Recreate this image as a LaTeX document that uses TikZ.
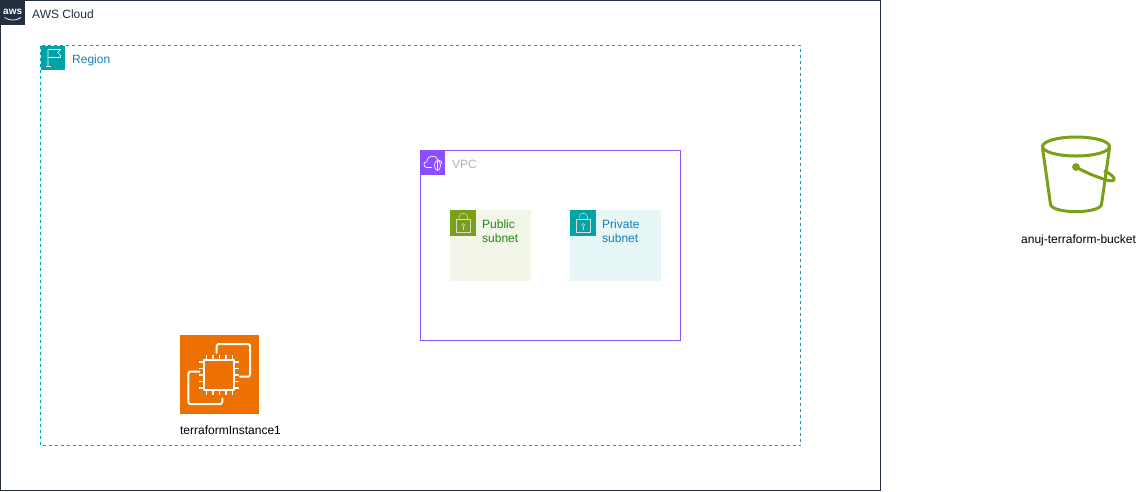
\documentclass[tikz,border=0pt]{standalone}
\usepackage{fontspec}
\setmainfont{Liberation Sans}
\definecolor{awsdark}{HTML}{232F3E}
\definecolor{regionc}{HTML}{00A4A6}
\definecolor{vpcc}{HTML}{8C4FFF}
\definecolor{greenc}{HTML}{7AA116}
\definecolor{pubfill}{HTML}{F2F6E8}
\definecolor{prifill}{HTML}{E6F6F7}
\definecolor{pubtext}{HTML}{248814}
\definecolor{pritext}{HTML}{147EBA}
\definecolor{ec2c}{HTML}{ED7100}
\definecolor{vpctext}{HTML}{AAB7B8}
\tikzset{
  lbl/.style={anchor=base west,inner sep=0pt,font=\fontsize{12}{14}\selectfont,align=left},
  iconline/.style={draw=white,line width=0.7pt,line join=round,fill=none},
  lockline/.style={draw=white!85!black,line width=0.5pt,line join=round,fill=none},
  chipline/.style={draw=white,line width=2pt,line join=round,line cap=round,fill=none},
  bucketline/.style={draw=greenc,line width=3pt,line join=round,fill=none},
  frameline/.style={line width=1pt}
}
\begin{document}
\begin{tikzpicture}[x=1pt,y=-1pt]
\useasboundingbox (0,0) rectangle (1148,491);
% AWS Cloud
\draw[awsdark,frameline] (0.5,0.5) rectangle (880.5,490.5);
\fill[awsdark] (0,0) rectangle (25,25);
\node[inner sep=0pt,text=white,font=\fontsize{10}{10}\selectfont\bfseries] (awslogo) at (12.7,11.5) {aws};
\draw[white,line width=0.7pt] (4.5,17.5) .. controls (10,21) and (16,21) .. (21,17.5);
\node[lbl,text=awsdark] (cloudlabel) at (32,18) {AWS Cloud};
% Region
\draw[regionc,frameline,dash pattern=on 3pt off 3pt] (40.5,45.5) rectangle (800.5,445.5);
\fill[regionc] (40.5,45.5) rectangle (65.2,70.2);
\draw[iconline] (48,66.5) -- (48,49.5) -- (60.5,49.5) -- (57.5,52.5) -- (60.5,55.5) -- (60.5,57.5) -- (48,57.5);
\draw[iconline] (46,66.5) -- (50.5,66.5);
\node[lbl,text=pritext] (regionlabel) at (72,63) {Region};
% VPC
\draw[vpcc,frameline] (420.5,150.5) rectangle (680.5,340.5);
\fill[vpcc] (420.5,150.5) rectangle (445.2,175.2);
\draw[iconline] (432,167.5) -- (427,167.5) .. controls (423,167.5) and (423,161.5) .. (427,161.5) .. controls (427,155) and (436,154) .. (438,160) .. controls (441,160) and (442,162) .. (442,164);
\draw[iconline] (437.5,165.5) ellipse (3 and 5);
\draw[iconline] (437.5,160.5) -- (437.5,170.5);
\node[lbl,text=vpctext] (vpclabel) at (452,168) {VPC};
% Public subnet
\fill[pubfill] (450.2,210.2) rectangle (530.5,280.5);
\fill[greenc] (450.2,210.2) rectangle (475.5,235.5);
\draw[lockline] (456.5,219) rectangle (470,232.5);
\draw[lockline] (459,219) -- (459,217) .. controls (459,212) and (467.5,212) .. (467.5,217) -- (467.5,219);
\draw[lockline] (463.2,225) circle (1.5);
\draw[lockline] (463.2,226.5) -- (463.2,229.5);
\node[lbl,text=pubtext] (publabel) at (482,242) {Public\\subnet};
% Private subnet
\fill[prifill] (570.2,210.2) rectangle (660.5,280.5);
\fill[regionc] (570.2,210.2) rectangle (595.5,235.5);
\draw[lockline] (576.5,219) rectangle (590,232.5);
\draw[lockline] (579,219) -- (579,217) .. controls (579,212) and (587.5,212) .. (587.5,217) -- (587.5,219);
\draw[lockline] (583.2,225) circle (1.5);
\draw[lockline] (583.2,226.5) -- (583.2,229.5);
\node[lbl,text=pritext] (prilabel) at (602,242) {Private\\subnet};
% EC2
\fill[ec2c] (180.2,335.2) rectangle (258.7,413.7);
\draw[chipline] (204.3,360) rectangle (234.3,390);
\draw[chipline,rounded corners=1.5pt] (216.7,353) -- (216.7,344) -- (250,344) -- (250,376.7) -- (240,376.7);
\draw[chipline,rounded corners=1.5pt] (199.3,371.7) -- (188.3,371.7) -- (188.3,404) -- (222.3,404) -- (222.3,398.3);
\foreach \p in {0,1,2,3,4}{
  \draw[white,line width=1.8pt] ({206.5+\p*6.5},355) -- ({206.5+\p*6.5},360);
  \draw[white,line width=1.8pt] ({206.5+\p*6.5},390) -- ({206.5+\p*6.5},395);
  \draw[white,line width=1.8pt] (199.3,{362+\p*6.5}) -- (204.3,{362+\p*6.5});
  \draw[white,line width=1.8pt] (234.3,{362+\p*6.5}) -- (239.3,{362+\p*6.5});
}
\node[inner sep=0pt,font=\fontsize{12}{14}\selectfont] (ec2label) at (230.5,430) {terraformInstance1};
% Bucket
\draw[bucketline] (1076,146.5) ellipse (33.5 and 9.5);
\draw[bucketline] (1042.5,148) -- (1050.5,204.5) .. controls (1053,214) and (1099,214) .. (1101.5,204.5) -- (1109.5,148);
\draw[bucketline] (1076,167) .. controls (1088,174) and (1098,177) .. (1106,180) .. controls (1119,183.5) and (1115,175) .. (1104,171);
\fill[greenc] (1076,167) circle (3.9);
\node[inner sep=0pt,font=\fontsize{12}{14}\selectfont] (s3label) at (1078.5,240) {anuj-terraform-bucket};
\end{tikzpicture}
\end{document}
